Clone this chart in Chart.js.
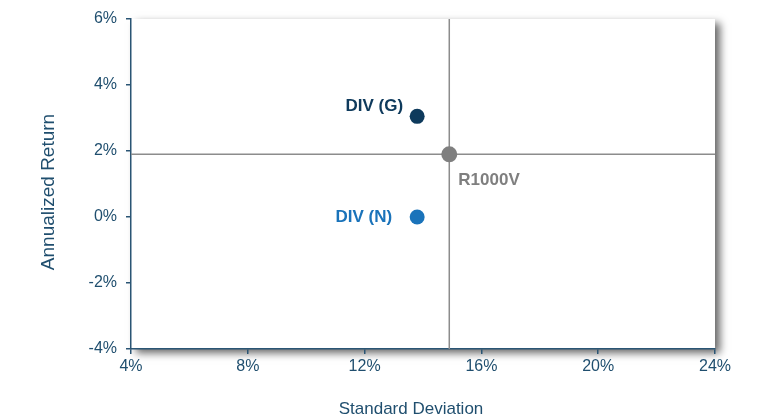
<!DOCTYPE html>
<html>
<head>
<meta charset="utf-8">
<script src="https://cdn.jsdelivr.net/npm/chart.js@4/dist/chart.umd.min.js"></script>
<style>
  html, body { margin: 0; padding: 0; background: #fff; }
  #wrap { width: 765px; height: 417px; position: relative; }
</style>
</head>
<body>
<div id="wrap"><canvas id="c" width="765" height="417"></canvas></div>
<script>
// ---- Data ----
const seriesNames = ['DIV (G)', 'DIV (N)', 'R1000V'];
const stdDev = [13.8, 13.8, 14.9];      // x: Standard Deviation (%)
const annReturn = [3.05, 0.0, 1.9];     // y: Annualized Return (%)
const xRange = [4, 24];
const yRange = [-4, 6];
const xStep = 4;
const yStep = 2;
const xTitle = 'Standard Deviation';
const yTitle = 'Annualized Return';
const benchmarkIndex = 2;

// ---- Styles ----
const pointColors = ['#0E3A5C', '#1A73BA', '#7F7F7F'];
const pointRadii = [7.5, 7.5, 8];
const labelOffsets = [[-14, -10, 'right'], [-25, 0, 'right'], [9, 26, 'left']];
const axisColor = '#2A5574';
const tickColor = '#1F4E6E';
const crossColor = '#8C8C8C';
const FONT = "'Liberation Sans', Arial, sans-serif";

const bx = stdDev[benchmarkIndex], by = annReturn[benchmarkIndex];

const datasets = [
  {
    type: 'line', label: 'hline',
    data: [{x: xRange[0], y: by}, {x: xRange[1], y: by}],
    borderColor: crossColor, borderWidth: 1.5, pointRadius: 0, fill: false, order: 5
  },
  {
    type: 'line', label: 'vline',
    data: [{x: bx, y: yRange[0]}, {x: bx, y: yRange[1]}],
    borderColor: crossColor, borderWidth: 1.5, pointRadius: 0, fill: false, order: 5
  }
];
seriesNames.forEach((n, i) => {
  datasets.push({
    type: 'scatter', label: n,
    data: [{x: stdDev[i], y: annReturn[i]}],
    backgroundColor: pointColors[i], borderColor: pointColors[i],
    pointRadius: pointRadii[i], pointHoverRadius: pointRadii[i], borderWidth: 0, order: 1
  });
});

const shadowPlugin = {
  id: 'shadowArea',
  beforeDraw(chart) {
    const {ctx, chartArea: a} = chart;
    ctx.save();
    ctx.shadowColor = 'rgba(0,0,0,0.6)';
    ctx.shadowBlur = 8;
    ctx.shadowOffsetX = 5;
    ctx.shadowOffsetY = 4;
    ctx.fillStyle = '#fff';
    ctx.fillRect(a.left, a.top, a.right - a.left, a.bottom - a.top);
    ctx.restore();
  }
};

const labelPlugin = {
  id: 'pointLabels',
  afterDatasetsDraw(chart) {
    const {ctx, scales} = chart;
    ctx.save();
    ctx.font = 'bold 17px ' + FONT;
    ctx.textBaseline = 'middle';
    seriesNames.forEach((n, i) => {
      const px = scales.x.getPixelForValue(stdDev[i]);
      const py = scales.y.getPixelForValue(annReturn[i]);
      const [dx, dy, al] = labelOffsets[i];
      ctx.fillStyle = pointColors[i];
      ctx.textAlign = al;
      ctx.fillText(n, px + dx, py + dy);
    });
    ctx.restore();
  },
  afterDraw(chart) {
    const {ctx} = chart;
    ctx.save();
    ctx.fillStyle = tickColor;
    ctx.textAlign = 'center';
    ctx.textBaseline = 'middle';
    ctx.font = '17px ' + FONT;
    ctx.fillText(xTitle, 411, 409);
    ctx.translate(49, 192);
    ctx.rotate(-Math.PI / 2);
    ctx.font = '19px ' + FONT;
    ctx.fillText(yTitle, 0, 0);
    ctx.restore();
  }
};

new Chart(document.getElementById('c'), {
  data: { datasets },
  plugins: [shadowPlugin, labelPlugin],
  options: {
    responsive: false,
    animation: false,
    layout: { padding: { top: 19, right: 50, left: 0, bottom: 0 } },
    plugins: { legend: { display: false }, tooltip: { enabled: false } },
    scales: {
      x: {
        type: 'linear', min: xRange[0], max: xRange[1],
        afterFit(s) { s.height = 68; },
        ticks: {
          stepSize: xStep, color: tickColor, padding: 3,
          font: { family: FONT, size: 16 },
          callback: v => v + '%'
        },
        grid: { drawOnChartArea: false, drawTicks: true, tickLength: 5, color: axisColor, lineWidth: 1.5 },
        border: { display: true, color: axisColor, width: 1.5 }
      },
      y: {
        type: 'linear', min: yRange[0], max: yRange[1],
        afterFit(s) { s.width = 131; },
        ticks: {
          stepSize: yStep, color: tickColor, padding: 9,
          font: { family: FONT, size: 16 },
          callback: v => v + '%'
        },
        grid: { drawOnChartArea: false, drawTicks: true, tickLength: 5, color: axisColor, lineWidth: 1.5 },
        border: { display: true, color: axisColor, width: 1.5 }
      }
    }
  }
});
</script>
</body>
</html>
